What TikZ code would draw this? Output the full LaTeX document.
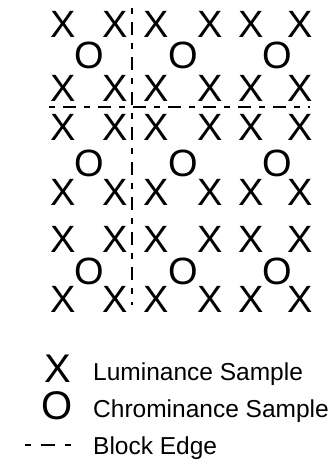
\documentclass[tikz,border=0pt]{standalone}
\usepackage{fontspec}
\setmainfont{Liberation Sans}
\begin{document}
\begin{tikzpicture}[x=1pt,y=-1pt,
  lum/.style={inner sep=0pt,font=\fontsize{38}{38}\selectfont},
  chrom/.style={inner sep=0pt,font=\fontsize{38}{38}\selectfont},
  legsym/.style={inner sep=0pt,anchor=base,font=\fontsize{40}{40}\selectfont},
  legtext/.style={inner sep=0pt,anchor=base west,font=\fontsize{24.5}{25}\selectfont},
  blockedge/.style={line width=2pt,dash pattern=on 6pt off 8pt on 13pt off 8pt}]
\useasboundingbox (0,0) rectangle (335,473);
% luminance samples
\foreach \r/\y in {1/24,2/88,3/127.5,4/192,5/239,6/299}{
  \foreach \c/\x in {1/63,2/115,3/156.5,4/210.5,5/251,6/300}{
    \node[lum] (x\r\c) at (\x,\y) {X};
  }
}
% chrominance samples
\foreach \r/\y in {1/55,2/163,3/271}{
  \foreach \c/\x in {1/89,2/183,3/277}{
    \node[chrom] (o\r\c) at (\x,\y) {O};
  }
}
% block edges
\coordinate (h1) at (49,107);
\coordinate (h2) at (310,107);
\coordinate (v1) at (131.5,8);
\coordinate (v2) at (131.5,305);
\draw[blockedge] (h1) -- (h2);
\draw[blockedge] (v1) -- (v2);
% legend
\node[legsym] (lx) at (58,382) {X};
\node[legtext] (lt1) at (93,380) {Luminance Sample};
\node[legsym] (lo) at (57,419) {O};
\node[legtext] (lt2) at (93,417) {Chrominance Sample};
\node[legtext] (lt3) at (93,454) {Block Edge};
\coordinate (d1) at (25,445);
\coordinate (d2) at (71,445);
\draw[line width=1.5pt,dash pattern=on 6pt off 10pt on 14pt off 10pt] (d1) -- (d2);
\end{tikzpicture}
\end{document}
